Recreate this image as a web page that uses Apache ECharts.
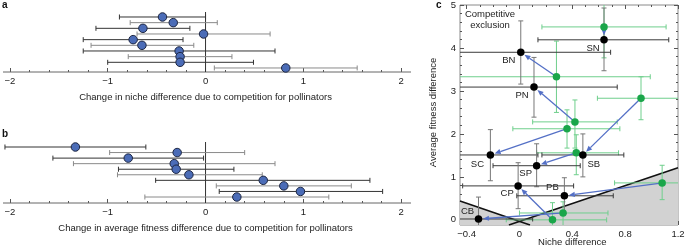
<!DOCTYPE html>
<html>
<head>
<meta charset="utf-8">
<script src="https://cdn.jsdelivr.net/npm/echarts@6/dist/echarts.min.js"></script>
<style>
  html, body { margin: 0; padding: 0; background: #fff; }
  #chart { width: 685px; height: 249px; }
</style>
</head>
<body>
<div id="chart"></div>
<script>
// a: change in niche difference (rows top to bottom)
var nicheMean = [-0.44, -0.33, -0.64, -0.02, -0.74, -0.65, -0.27, -0.26, -0.26, 0.82]
var nicheLow = [-0.88, -0.77, -1.12, -0.70, -1.25, -1.17, -1.25, -0.79, -1.00, 0.09]
var nicheHigh = [0.00, 0.12, -0.16, 0.66, -0.23, -0.12, 0.71, 0.27, 0.49, 1.55]

// b: change in average fitness difference
var fitMean = [-1.33, -0.29, -0.79, -0.32, -0.30, -0.17, 0.59, 0.80, 0.97, 0.32]
var fitLow = [-2.05, -0.98, -1.56, -1.35, -0.89, -0.90, -0.51, 0.11, 0.14, -0.62]
var fitHigh = [-0.61, 0.40, -0.02, 0.71, 0.29, 0.58, 1.68, 1.49, 1.81, 1.26]

var axisTicksAB = [-2, -1, 0, 1, 2]

// c: pairs with competition for pollinators (black) and without (green)
var pairNames = ['SN', 'BN', 'PN', 'SC', 'SB', 'SP', 'CP', 'PB', 'CB']
var withNiche = [0.64, 0.01, 0.11, -0.22, 0.48, 0.13, -0.01, 0.34, -0.31]
var withFit = [4.19, 3.90, 3.09, 1.51, 1.51, 1.26, 0.79, 0.56, 0.02]
var withNicheLow = [0.14, -0.60, -0.60, -0.60, 0.17, -0.20, -0.43, -0.02, -0.55]
var withNicheHigh = [1.13, 0.69, 0.74, 0.14, 0.79, 0.46, 0.41, 0.71, 0.10]
var withFitLow = [3.47, 3.16, 2.39, 0.91, 1.00, 0.77, 0.26, 0.15, -0.30]
var withFitHigh = [4.93, 4.63, 3.78, 2.10, 2.00, 1.77, 1.33, 0.98, 0.53]

var withoutNiche = [0.64, 0.28, 0.42, 0.36, 0.92, 0.43, 0.25, 1.08, 0.33]
var withoutFit = [4.49, 3.33, 2.28, 2.12, 2.83, 1.56, 0.00, 0.86, 0.16]
var withoutNicheLow = [0.17, -0.60, 0.10, -0.05, 0.59, 0.13, -0.10, 0.72, 0.00]
var withoutNicheHigh = [1.11, 0.99, 0.74, 0.76, 1.30, 0.75, 0.66, 1.30, 0.67]
var withoutFitLow = [3.77, 2.50, 1.67, 1.67, 2.33, 1.05, -0.30, 0.47, -0.30]
var withoutFitHigh = [5.20, 4.16, 2.79, 2.56, 3.33, 1.98, 0.40, 1.27, 0.42]

// coexistence boundaries
var riseLine = [[-0.08, -0.12], [1.2, 1.21]]
var fallLine = [[-0.45, 0.44], [0.08, -0.12]]

var xTicksC = [-0.4, 0, 0.4, 0.8, 1.2]
var yTicksC = [0, 1, 2, 3, 4, 5]

// ---- layout ----
var FONT = 'Liberation Sans, Arial, sans-serif'
var AB_MIN = -2.07, AB_MAX = 2.1
var AB_LEFT = 3, AB_WIDTH = 408
var abPx = AB_WIDTH / (AB_MAX - AB_MIN)
var abTickLeft = AB_LEFT + (axisTicksAB[0] - AB_MIN) * abPx
var abTickWidth = (axisTicksAB[axisTicksAB.length - 1] - axisTicksAB[0]) * abPx
var A_ROWS = [0.12, 10.71], B_ROWS = [0.1, 11.08]

var C_XMIN = -0.45, C_XMAX = 1.2, C_YMIN = -0.12, C_YMAX = 5
var C_LEFT = 460, C_TOP = 5, C_WIDTH = 218, C_HEIGHT = 220
var cPxX = C_WIDTH / (C_XMAX - C_XMIN)
var cPxY = C_HEIGHT / (C_YMAX - C_YMIN)
var cTickLeft = C_LEFT + (xTicksC[0] - C_XMIN) * cPxX
var cTickWidth = (xTicksC[xTicksC.length - 1] - xTicksC[0]) * cPxX
var cTickTop = C_TOP + (C_YMAX - yTicksC[yTicksC.length - 1]) * cPxY
var cTickHeight = (yTicksC[yTicksC.length - 1] - yTicksC[0]) * cPxY

function minus(v) {
  var r = Math.round(v * 10) / 10
  return r < 0 ? '\u2212' + Math.abs(r) : String(r)
}

// rows are numbered from 1 at the top
function rowsData(mean, low, high) {
  return mean.map(function (m, i) { return [m, i + 1, low[i], high[i]] })
}

// horizontal error bar with caps, row layout (a, b)
function rowBar(params, api) {
  var y = api.value(1)
  var p1 = api.coord([api.value(2), y])
  var p2 = api.coord([api.value(3), y])
  var color = params.dataIndex % 2 === 0 ? '#333' : '#8a8a8a'
  var st = { stroke: color, lineWidth: 1 }
  return {
    type: 'group',
    children: [
      { type: 'line', shape: { x1: p1[0], y1: p1[1], x2: p2[0], y2: p2[1] }, style: st },
      { type: 'line', shape: { x1: p1[0], y1: p1[1] - 2.5, x2: p1[0], y2: p1[1] + 2.5 }, style: st },
      { type: 'line', shape: { x1: p2[0], y1: p2[1] - 2.5, x2: p2[0], y2: p2[1] + 2.5 }, style: st }
    ]
  }
}

// axis baseline along the bottom of a row panel
function baseLine(params, api) {
  var y = api.value(1)
  var p1 = api.coord([api.value(0), y])
  var p2 = api.coord([api.value(2), y])
  return { type: 'line', shape: { x1: p1[0], y1: p1[1], x2: p2[0], y2: p2[1] }, style: { stroke: '#666', lineWidth: 1 } }
}

function clampBar(lo, hi, min, max) {
  return { lo: Math.max(lo, min), hi: Math.min(hi, max), capLo: lo >= min, capHi: hi <= max }
}

// x and y error bars for panel c
function crossBar(hColor, vColor) {
  return function (params, api) {
    var x = api.value(0), y = api.value(1)
    var hx = clampBar(api.value(2), api.value(3), C_XMIN, C_XMAX)
    var vy = clampBar(api.value(4), api.value(5), C_YMIN, C_YMAX)
    var a = api.coord([hx.lo, y]), b = api.coord([hx.hi, y])
    var c = api.coord([x, vy.lo]), d = api.coord([x, vy.hi])
    var hs = { stroke: hColor, lineWidth: 1 }
    var vs = { stroke: vColor, lineWidth: 1 }
    var ch = [
      { type: 'line', shape: { x1: a[0], y1: a[1], x2: b[0], y2: b[1] }, style: hs },
      { type: 'line', shape: { x1: c[0], y1: c[1], x2: d[0], y2: d[1] }, style: vs }
    ]
    if (hx.capLo) ch.push({ type: 'line', shape: { x1: a[0], y1: a[1] - 2.5, x2: a[0], y2: a[1] + 2.5 }, style: hs })
    if (hx.capHi) ch.push({ type: 'line', shape: { x1: b[0], y1: b[1] - 2.5, x2: b[0], y2: b[1] + 2.5 }, style: hs })
    if (vy.capLo) ch.push({ type: 'line', shape: { x1: c[0] - 2.5, y1: c[1], x2: c[0] + 2.5, y2: c[1] }, style: vs })
    if (vy.capHi) ch.push({ type: 'line', shape: { x1: d[0] - 2.5, y1: d[1], x2: d[0] + 2.5, y2: d[1] }, style: vs })
    return { type: 'group', children: ch }
  }
}

function arrowItem(params, api) {
  var p1 = api.coord([api.value(0), api.value(1)])
  var p2 = api.coord([api.value(2), api.value(3)])
  var dx = p2[0] - p1[0], dy = p2[1] - p1[1]
  var len = Math.sqrt(dx * dx + dy * dy)
  var ux = dx / len, uy = dy / len
  var tip = [p2[0] - ux * 4.5, p2[1] - uy * 4.5]
  var base = [tip[0] - ux * 6, tip[1] - uy * 6]
  var start = [p1[0] + ux * 3, p1[1] + uy * 3]
  var color = '#5470c6'
  return {
    type: 'group',
    children: [
      { type: 'line', shape: { x1: start[0], y1: start[1], x2: base[0], y2: base[1] }, style: { stroke: color, lineWidth: 1.3 } },
      { type: 'polygon', shape: { points: [tip, [base[0] - uy * 2.6, base[1] + ux * 2.6], [base[0] + uy * 2.6, base[1] - ux * 2.6]] }, style: { fill: color } }
    ]
  }
}

function regionItem(params, api) {
  var pts = [riseLine[0], riseLine[1], [C_XMAX, C_YMIN]]
  var pts2 = [fallLine[0], fallLine[1], [C_XMIN, C_YMIN]]
  return {
    type: 'group',
    children: [
      { type: 'polygon', shape: { points: pts.map(function (p) { return api.coord(p) }) }, style: { fill: '#d2d2d2' } },
      { type: 'polygon', shape: { points: pts2.map(function (p) { return api.coord(p) }) }, style: { fill: '#d2d2d2' } }
    ]
  }
}

var labelOffsets = {
  SN: [-11, 9], BN: [-12, 8], PN: [-12, 8], SC: [-13, 9], SB: [11, 9],
  SP: [-11, 8], CP: [-11, 7], PB: [-12, -8], CB: [-11, -8]
}

var chart = echarts.init(document.getElementById('chart'), null, { renderer: 'canvas' })

var hiddenAxis = function (grid, min, max, extra) {
  return Object.assign({ gridIndex: grid, type: 'value', min: min, max: max, show: false, axisLine: { onZero: false } }, extra || {})
}
var tickAxis = function (grid, ticks, interval, name, extra) {
  return Object.assign({
    gridIndex: grid, type: 'value', min: ticks[0], max: ticks[ticks.length - 1], interval: interval,
    axisLine: { show: false, onZero: false },
    axisTick: { show: true, inside: true, length: 4, lineStyle: { color: '#555' } },
    minorTick: { show: true, splitNumber: 5, length: 2, lineStyle: { color: '#555' } },
    splitLine: { show: false },
    axisLabel: { formatter: minus, margin: 4, fontFamily: FONT, fontSize: 9.5, color: '#222' },
    name: name, nameLocation: 'middle', nameMoveOverlap: false,
    nameTextStyle: { fontFamily: FONT, fontSize: 9.5, color: '#222' }
  }, extra || {})
}
var makeGrid = function (left, top, width, height, extra) {
  return Object.assign({ left: left, top: top, width: width, height: height, outerBoundsMode: 'none', containLabel: false }, extra || {})
}
var zeroLine = function (xi, rows) {
  return { type: 'line', xAxisIndex: xi, yAxisIndex: xi, data: [[0, rows[0]], [0, rows[1]]], symbol: 'none', clip: false, silent: true, lineStyle: { color: '#333', width: 1 }, z: 1 }
}
var axisBase = function (xi, rows) {
  return { type: 'custom', xAxisIndex: xi, yAxisIndex: xi, renderItem: baseLine, data: [[AB_MIN, rows[1], AB_MAX]], silent: true, z: 1 }
}

var aRows = rowsData(nicheMean, nicheLow, nicheHigh)
var bRows = rowsData(fitMean, fitLow, fitHigh)

var cWith = pairNames.map(function (n, i) {
  return [withNiche[i], withFit[i], withNicheLow[i], withNicheHigh[i], withFitLow[i], withFitHigh[i]]
})
var cWithout = pairNames.map(function (n, i) {
  return [withoutNiche[i], withoutFit[i], withoutNicheLow[i], withoutNicheHigh[i], withoutFitLow[i], withoutFitHigh[i]]
})
var cArrows = pairNames.map(function (n, i) {
  return [withoutNiche[i], withoutFit[i], withNiche[i], withFit[i]]
})
var cLabeled = pairNames.map(function (n, i) {
  return {
    value: [withNiche[i], withFit[i]],
    label: { show: true, formatter: n, position: 'inside', offset: labelOffsets[n] }
  }
})

var cMinor = { show: true, splitNumber: 4, length: 2, lineStyle: { color: '#555' } }
var dotStyle = { color: '#4b6cb7', borderColor: '#1c2540', borderWidth: 1, opacity: 1 }

var option = {
  animation: false,
  textStyle: { fontFamily: FONT },
  grid: [
    makeGrid(AB_LEFT, 12, AB_WIDTH, 60),
    makeGrid(abTickLeft, 12, abTickWidth, 60),
    makeGrid(AB_LEFT, 142, AB_WIDTH, 61),
    makeGrid(abTickLeft, 142, abTickWidth, 61),
    makeGrid(C_LEFT, C_TOP, C_WIDTH, C_HEIGHT, { show: true, borderColor: '#8a8a8a', borderWidth: 1 }),
    makeGrid(cTickLeft, C_TOP, cTickWidth, C_HEIGHT),
    makeGrid(C_LEFT, cTickTop, C_WIDTH, cTickHeight)
  ],
  xAxis: [
    hiddenAxis(0, AB_MIN, AB_MAX),
    tickAxis(1, axisTicksAB, 1, 'Change in niche difference due to competition for pollinators', { nameGap: 20 }),
    hiddenAxis(2, AB_MIN, AB_MAX),
    tickAxis(3, axisTicksAB, 1, 'Change in average fitness difference due to competition for pollinators', { nameGap: 20 }),
    hiddenAxis(4, C_XMIN, C_XMAX),
    tickAxis(5, xTicksC, 0.4, 'Niche difference', { position: 'bottom', nameGap: 12, minorTick: cMinor }),
    tickAxis(5, xTicksC, 0.4, '', { position: 'top', axisLabel: { show: false }, minorTick: cMinor }),
    hiddenAxis(6, 0, 1)
  ],
  yAxis: [
    hiddenAxis(0, A_ROWS[0], A_ROWS[1], { inverse: true }),
    hiddenAxis(1, 0, 1),
    hiddenAxis(2, B_ROWS[0], B_ROWS[1], { inverse: true }),
    hiddenAxis(3, 0, 1),
    hiddenAxis(4, C_YMIN, C_YMAX),
    hiddenAxis(5, 0, 1),
    tickAxis(6, yTicksC, 1, 'Average fitness difference', { position: 'left', nameGap: 22 }),
    tickAxis(6, yTicksC, 1, '', { position: 'right', axisLabel: { show: false } })
  ],
  graphic: [
    { type: 'text', left: 2, top: 0, style: { text: 'a', font: 'bold 10px ' + FONT, fill: '#111' } },
    { type: 'text', left: 2, top: 129, style: { text: 'b', font: 'bold 10px ' + FONT, fill: '#111' } },
    { type: 'text', left: 436, top: 0, style: { text: 'c', font: 'bold 10px ' + FONT, fill: '#111' } },
    { type: 'text', x: 490, y: 20, style: { text: 'Competitive\nexclusion', font: '9.5px ' + FONT, fill: '#222', align: 'center', verticalAlign: 'middle', lineHeight: 11 } },
    { type: 'text', x: 677, y: 215, style: { text: 'Coexistence', font: '9.5px ' + FONT, fill: '#222', align: 'right', verticalAlign: 'middle' } }
  ],
  series: [
    // panel a: baseline, zero line, bars, dots
    axisBase(0, A_ROWS),
    zeroLine(0, A_ROWS),
    { type: 'custom', xAxisIndex: 0, yAxisIndex: 0, renderItem: rowBar, data: aRows, z: 2 },
    { type: 'scatter', xAxisIndex: 0, yAxisIndex: 0, data: aRows.map(function (r) { return [r[0], r[1]] }), symbolSize: 8.5, itemStyle: dotStyle, z: 3 },
    // panel b
    axisBase(2, B_ROWS),
    zeroLine(2, B_ROWS),
    { type: 'custom', xAxisIndex: 2, yAxisIndex: 2, renderItem: rowBar, data: bRows, z: 2 },
    { type: 'scatter', xAxisIndex: 2, yAxisIndex: 2, data: bRows.map(function (r) { return [r[0], r[1]] }), symbolSize: 8.5, itemStyle: dotStyle, z: 3 },
    // panel c
    { type: 'custom', xAxisIndex: 4, yAxisIndex: 4, renderItem: regionItem, data: [[0, 0]], z: 1, silent: true },
    { type: 'line', xAxisIndex: 4, yAxisIndex: 4, data: riseLine, symbol: 'none', lineStyle: { color: '#111', width: 1.6 }, z: 2 },
    { type: 'line', xAxisIndex: 4, yAxisIndex: 4, data: fallLine, symbol: 'none', lineStyle: { color: '#111', width: 1.6 }, z: 2 },
    { type: 'custom', xAxisIndex: 4, yAxisIndex: 4, renderItem: crossBar('#6fcf8c', '#6fcf8c'), data: cWithout, z: 3 },
    { type: 'custom', xAxisIndex: 4, yAxisIndex: 4, renderItem: crossBar('#3a3a3a', '#777'), data: cWith, z: 4 },
    { type: 'custom', xAxisIndex: 4, yAxisIndex: 4, renderItem: arrowItem, data: cArrows, z: 5 },
    { type: 'scatter', xAxisIndex: 4, yAxisIndex: 4, data: cWithout.map(function (r) { return [r[0], r[1]] }), symbolSize: 7.5, itemStyle: { color: '#1aa64a', opacity: 1 }, z: 6 },
    { type: 'scatter', xAxisIndex: 4, yAxisIndex: 4, data: cLabeled, symbolSize: 7.5, itemStyle: { color: '#000', opacity: 1 },
      label: { fontFamily: FONT, fontSize: 9.5, color: '#222' }, z: 7 }
  ]
}

chart.setOption(option)
</script>
</body>
</html>
